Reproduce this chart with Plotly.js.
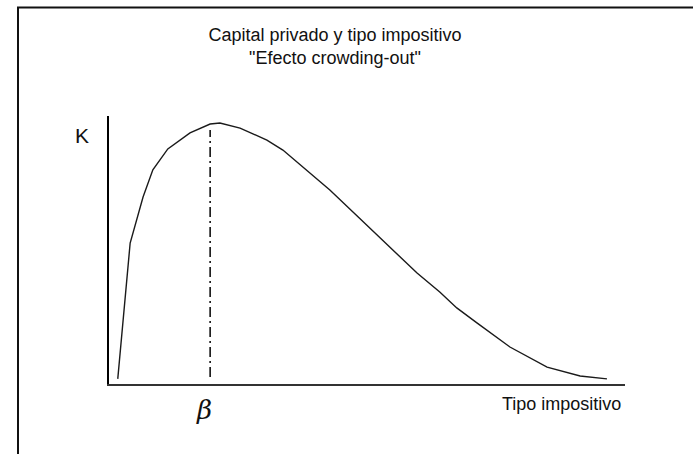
<!DOCTYPE html>
<html>
<head>
<meta charset="utf-8">
<script src="https://cdn.plot.ly/plotly-3.0.1.min.js"></script>
<style>html,body{margin:0;padding:0;background:#fff;}#chart{width:693px;height:454px;}</style>
</head>
<body>
<div id="chart"></div>
<script>
// Tax rate (% of axis span) and private capital K (% of axis height)
const taxRate = [1.7, 4.1, 6.6, 8.5, 11.4, 15.7, 19.6, 21.5, 25.4, 30.6, 33.7, 39.0, 42.8, 48.3, 54.5, 59.7, 64.1, 67.4, 71.3, 77.7, 84.9, 91.3, 96.5];
const capitalK = [1.9, 52.6, 69.8, 79.9, 87.7, 93.7, 97.0, 97.4, 95.5, 91.0, 87.3, 78.7, 72.4, 62.3, 51.1, 41.4, 34.3, 28.4, 22.8, 13.8, 6.3, 3.0, 1.9];
const betaX = [19.6, 19.6];
const betaY = [2.6, 94.8];
const titleText = 'Capital privado y tipo impositivo<br>"Efecto crowding-out"';
const yLabel = 'K';
const xLabel = 'Tipo impositivo';
const betaLabel = '<i>β</i>';

const traces = [
  {x: taxRate, y: capitalK, mode: 'lines', type: 'scatter',
   line: {color: '#1a1a1a', width: 1.4}, hoverinfo: 'skip'},
  {x: betaX, y: betaY, mode: 'lines', type: 'scatter',
   line: {color: '#111', width: 1.6, dash: '10px,4px,2px,4px'}, hoverinfo: 'skip'}
];

const W = 693, H = 454, L = 109, R = 68, T = 116, B = 70;
const pw = W - L - R, ph = H - T - B;
const px = v => (v - L) / pw;          // pixel x -> paper x
const py = v => (H - B - v) / ph;      // pixel y -> paper y

const layout = {
  width: W, height: H,
  margin: {l: L, r: R, t: T, b: B, pad: 0},
  paper_bgcolor: '#fff', plot_bgcolor: '#fff',
  showlegend: false,
  font: {family: 'Liberation Sans, Arial, sans-serif', color: '#111'},
  title: {text: titleText, font: {size: 18, color: '#111'},
          xref: 'container', yref: 'container', x: 335 / W, xanchor: 'center',
          y: 1 - 41 / H, yanchor: 'top'},
  xaxis: {range: [0, 100], showline: true, linecolor: '#333', linewidth: 1.5,
          showgrid: false, zeroline: false, showticklabels: false, ticks: '', fixedrange: true},
  yaxis: {range: [0, 100], showline: true, linecolor: '#000', linewidth: 2,
          showgrid: false, zeroline: false, showticklabels: false, ticks: '', fixedrange: true},
  annotations: [
    {text: yLabel, xref: 'paper', yref: 'paper', x: px(81.5), y: py(135),
     showarrow: false, font: {size: 21, color: '#111'}, xanchor: 'center', yanchor: 'middle'},
    {text: xLabel, xref: 'paper', yref: 'paper', x: px(561), y: py(404),
     showarrow: false, font: {size: 18, color: '#111'}, xanchor: 'center', yanchor: 'middle'},
    {text: betaLabel, xref: 'paper', yref: 'paper', x: px(204), y: py(410),
     showarrow: false, font: {size: 26, color: '#111', family: 'DejaVu Serif, serif'}, xanchor: 'center', yanchor: 'middle'}
  ],
  shapes: [
    {type: 'line', xref: 'paper', yref: 'paper', x0: px(18), x1: px(18), y0: py(7), y1: py(460),
     line: {color: '#111', width: 2}},
    {type: 'line', xref: 'paper', yref: 'paper', x0: px(17), x1: px(700), y0: py(7.5), y1: py(7.5),
     line: {color: '#111', width: 2}}
  ]
};

Plotly.newPlot('chart', traces, layout, {displayModeBar: false, staticPlot: true});
</script>
</body>
</html>
